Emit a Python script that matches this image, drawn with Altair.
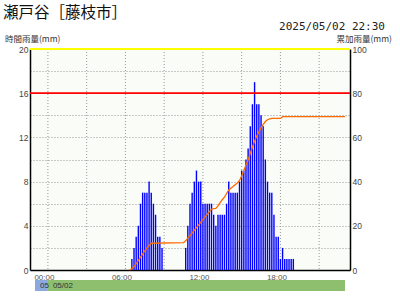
import altair as alt
import pandas as pd

title_text = "瀬戸谷［藤枝市］"
stamp_text = "2025/05/02 22:30"
left_title = "時間雨量(mm)"
right_title = "累加雨量(mm)"

# 10-minute bars (hourly-rate rainfall, mm) on 05/02
bar_times = [
    "06:30", "06:40", "06:50", "07:00", "07:10", "07:20", "07:30", "07:40",
    "07:50", "08:00", "08:10", "08:20", "08:30", "08:40", "08:50",
    "10:40", "10:50", "11:00", "11:10", "11:20", "11:30", "11:40", "11:50",
    "12:00", "12:10", "12:20", "12:30", "12:40", "12:50", "13:00", "13:10",
    "13:20", "13:30", "13:40", "13:50", "14:00", "14:10", "14:20", "14:30",
    "14:40", "14:50", "15:00", "15:10", "15:20", "15:30", "15:40", "15:50",
    "16:00", "16:10", "16:20", "16:30", "16:40", "16:50", "17:00", "17:10",
    "17:20", "17:30", "17:40", "17:50", "18:00", "18:10", "18:20", "18:30",
    "18:40", "18:50", "19:00",
]
bar_values = [
    1, 2, 3, 4, 6, 7, 7, 7, 8, 7, 6, 5, 3, 3, 2,
    2, 4, 6, 7, 8, 9, 8, 8, 6, 6, 6, 6, 6, 5, 4, 5, 5, 5,
    5, 6, 8, 7, 7, 7, 7, 8, 9, 9, 10, 11, 13, 15, 17,
    15, 15, 14, 13, 10, 8, 7, 7, 5, 3, 3, 1, 2, 1, 1, 1, 1, 1,
]

# cumulative rainfall (mm)
cum_times = [
    "06:20", "06:30", "06:40", "06:50", "07:00", "07:10", "07:20", "07:30",
    "07:40", "07:50", "08:00", "10:30", "10:40", "10:50", "11:00", "11:10",
    "11:20", "11:30", "11:40", "11:50", "12:00", "12:10", "12:20", "12:30",
    "12:40", "12:50", "13:00", "13:10", "13:20", "13:30", "13:40", "13:50",
    "14:00", "14:10", "14:20", "14:30", "14:40", "14:50", "15:00", "15:10",
    "15:20", "15:30", "15:40", "15:50", "16:00", "16:10", "16:20", "16:30",
    "16:40", "16:50", "17:00", "17:10", "17:20", "18:00", "18:10", "23:00",
]
cum_values = [
    0, 0.6, 1.6, 2.9, 4.3, 5.8, 7.2, 8.6,
    9.9, 11.1, 12.1, 12.4, 13.2, 14.4, 15.6, 16.8,
    18.0, 19.2, 20.4, 21.6, 22.8, 24.0, 25.2, 26.4,
    27.5, 27.8, 27.9, 29.0, 30.5, 31.8, 33.0, 34.6,
    36.2, 37.0, 37.8, 38.6, 39.4, 40.5, 42.5, 45.0,
    47.5, 49.8, 52.8, 55.5, 58.3, 60.6, 62.5, 64.3,
    65.9, 67.2, 68.0, 68.4, 68.6, 68.6, 69.4, 69.4,
]

grid_times = ["00:00", "03:00", "06:00", "09:00", "12:00", "15:00", "18:00", "21:00"]
label_times = ["00:00", "06:00", "12:00", "18:00"]
left_ticks = [0, 2, 4, 6, 8, 10, 12, 14, 16, 18, 20]
right_ticks = [0, 20, 40, 60, 80, 100]
warn_level = [16]
top_level = [20]

date_labels = ["05", "05/02"]
date_starts = ["05/01 23:00", "05/02 00:00"]
date_ends = ["05/02 00:00", "05/02 23:00"]
date_colors = ["#8CA9DF", "#8DBF6E"]


def hrs(s, day=2):
    """hours since 05/01 23:00"""
    if " " in s:
        d, t = s.split(" ")
        day = int(d.split("/")[1])
    else:
        t = s
    hh, mm = t.split(":")
    return (day - 1) * 24 + int(hh) + int(mm) / 60 - 23


bars_df = pd.DataFrame({"h": [hrs(t) for t in bar_times], "v": bar_values})
cum_df = pd.DataFrame({"h": [hrs(t) for t in cum_times], "c": cum_values})
grid_df = pd.DataFrame({"h": [hrs(t) for t in grid_times]})
date_df = pd.DataFrame({
    "s": [hrs(t) for t in date_starts],
    "e": [hrs(t) for t in date_ends],
    "lab": date_labels,
    "col": date_colors,
})

grid_vals = [hrs(t) for t in grid_times]
lab_expr = " : ".join(
    f"datum.value == {hrs(t)} ? '{t}'" for t in label_times
) + " : ''"

xscale = alt.Scale(domain=[0, 24], nice=False, zero=False)
yl_scale = alt.Scale(domain=[0, 20], nice=False)
yr_scale = alt.Scale(domain=[0, 100], nice=False)

x_axis = alt.Axis(
    values=grid_vals, labelExpr=lab_expr, grid=False, ticks=False,
    domainColor="black", domainWidth=1.5, labelFont="Liberation Sans",
    labelFontSize=8, labelColor="#555555", labelOffset=-4, labelPadding=3,
    title=None, labelFlush=False, orient="bottom",
)
yl_axis = alt.Axis(
    values=left_ticks, labelExpr="datum.value % 4 == 0 ? datum.value : ''",
    grid=True, gridDash=[1, 2], gridColor="#999999", gridOpacity=1,
    ticks=False, domainColor="black", domainWidth=1.5, orient="left",
    labelFont="Liberation Sans", labelFontSize=8.5, labelColor="#444444",
    labelPadding=2, title=None, labelFlush=False,
)
yr_axis = alt.Axis(
    values=right_ticks, orient="right", grid=False, ticks=False,
    domainColor="black", domainWidth=1.5, labelFont="Liberation Sans",
    labelFontSize=8.5, labelColor="#444444", labelPadding=2, title=None,
    labelFlush=False,
)


def xenc(field):
    return alt.X(field, scale=xscale, axis=x_axis)


vgrid = alt.Chart(grid_df).mark_rule(
    color="#999999", strokeDash=[1, 2], strokeWidth=1
).encode(x=xenc("h:Q"))

bars = alt.Chart(bars_df).mark_bar(orient="vertical", size=1.4, color="#0000FF").encode(
    x=xenc("h:Q"),
    y=alt.Y("v:Q", scale=yl_scale, axis=yl_axis),
)
rule_top = alt.Chart(pd.DataFrame({"v": top_level})).mark_rule(
    color="#FFFF00", strokeWidth=2
).encode(y=alt.Y("v:Q", scale=yl_scale, axis=None))
rule_warn = alt.Chart(pd.DataFrame({"v": warn_level})).mark_rule(
    color="#FF0000", strokeWidth=1.8
).encode(y=alt.Y("v:Q", scale=yl_scale, axis=None))

line = alt.Chart(cum_df).mark_line(color="#FF6A00", strokeWidth=1.3).encode(
    x=xenc("h:Q"),
    y=alt.Y("c:Q", scale=yr_scale, axis=yr_axis),
)

date_rects = alt.Chart(date_df).mark_rect().encode(
    x=xenc("s:Q"),
    x2="e:Q",
    y=alt.value(231),
    y2=alt.value(242),
    color=alt.Color("col:N", scale=None),
)
date_text = alt.Chart(date_df).mark_text(
    align="left", baseline="middle", dx=5, font="Liberation Sans",
    fontSize=8, color="#333333",
).encode(
    x=xenc("s:Q"),
    y=alt.value(237),
    text="lab:N",
)


def label(txt, x, y, size, align="left", font="Noto Sans CJK JP", color="#222222", baseline="middle"):
    return alt.Chart(pd.DataFrame({"t": [txt]})).mark_text(
        align=align, baseline=baseline, font=font, fontSize=size, color=color,
    ).encode(x=alt.value(x), y=alt.value(y), text="t:N")


t_title = label(title_text, -27, -36.5, 15.5, color="#111111")
t_stamp = label(stamp_text, 355, -22.5, 11, align="right", font="DejaVu Sans Mono", color="#222222")
t_left = label(left_title, -25, -10, 8.5, color="#333333")
t_right = label(right_title, 362, -10, 8.5, align="right", color="#333333")

chart = alt.layer(
    vgrid, bars, rule_top, rule_warn, line, date_rects, date_text,
    t_title, t_stamp, t_left, t_right
).resolve_scale(y="independent").properties(
    width=320,
    height=221,
    padding={"left": 30, "top": 49, "right": 50, "bottom": 30},
    autosize=alt.AutoSizeParams(type="none"),
    background="white",
).configure_view(fill="#F9FCF7", stroke=None)

chart.save("out.html", embed_options={"renderer": "svg", "actions": False})
